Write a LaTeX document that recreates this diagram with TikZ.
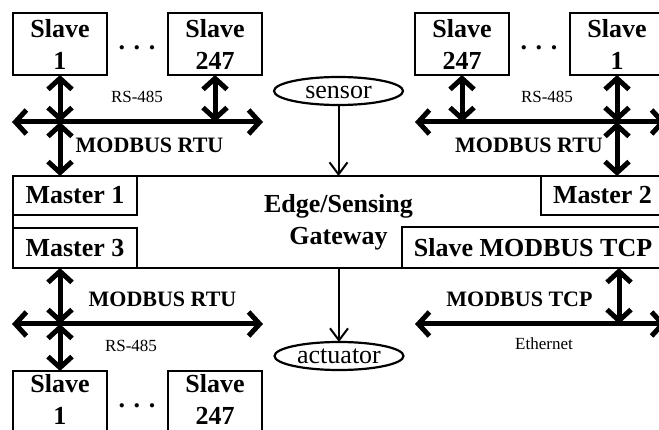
\documentclass[tikz,border=0pt]{standalone}
\usepackage{fontspec}
\setmainfont{Liberation Serif}
\usetikzlibrary{arrows.meta,shapes.geometric}
\begin{document}
\begin{tikzpicture}[x=1pt,y=-1pt,
  box/.style={draw, line width=2.5pt, inner sep=0pt, outer sep=0pt, align=center, font=\fontsize{26}{32}\selectfont\bfseries},
  slavebox/.style={box, minimum width=94pt, minimum height=62pt},
  ell/.style={ellipse, draw, line width=2.2pt, inner sep=0pt, outer sep=0pt, minimum width=129pt, minimum height=28pt, text height=17pt, text depth=2pt, font=\fontsize{26}{30}\selectfont},
  dotlbl/.style={anchor=base, inner sep=0pt, font=\fontsize{26}{30}\selectfont\bfseries},
  lbl/.style={anchor=base, inner sep=0pt, font=\fontsize{17}{20}\selectfont},
  mlbl/.style={anchor=base, inner sep=0pt, font=\fontsize{22}{26}\selectfont\bfseries},
  bus/.style={line width=5pt, arrows={Straight Barb[length=11pt,width=24pt]-Straight Barb[length=11pt,width=24pt]}},
  thinarr/.style={line width=2pt, arrows={-Straight Barb[length=12pt,width=18pt]}}
]
\useasboundingbox (0,0) rectangle (659,430);
\fill[white] (0,0) rectangle (659,430);
\clip (0,0) rectangle (659,430);

% gateway and its parts
\node[box, minimum width=651pt, minimum height=92pt] (gw) at (338.5,222) {Edge/Sensing\\Gateway};
\node[box, minimum width=124pt, minimum height=39pt] (m1) at (75,195.5) {Master 1};
\node[box, minimum width=124pt, minimum height=40pt] (m3) at (75,248) {Master 3};
\node[box, minimum width=123pt, minimum height=39pt] (m2) at (602.5,195.5) {Master 2};
\node[box, minimum width=262pt, minimum height=41pt] (stcp) at (533,247.5) {Slave MODBUS TCP};

% slaves
\node[slavebox] (s1a) at (60,44) {Slave\\1};
\node[slavebox] (s247a) at (215,44) {Slave\\247};
\node[dotlbl] (d1) at (137,50) {. . .};
\node[slavebox] (s247b) at (462,44) {Slave\\247};
\node[slavebox] (s1b) at (617,44) {Slave\\1};
\node[dotlbl] (d2) at (539,50) {. . .};
\node[slavebox, text depth=5pt] (s1c) at (60,402) {Slave\\1};
\node[slavebox, text depth=5pt] (s247c) at (215,402) {Slave\\247};
\node[dotlbl] (d3) at (137,407) {. . .};

% sensor / actuator
\node[ell] (sen) at (338.5,91) {sensor};
\node[ell] (act) at (339,356) {actuator};

% labels
\node[lbl] (rs1) at (137,103) {RS-485};
\node[lbl] (rs2) at (547,103) {RS-485};
\node[lbl] (rs3) at (131,352) {RS-485};
\node[lbl] (eth) at (544,350) {Ethernet};
\node[mlbl] (mr1) at (149.5,153) {MODBUS RTU};
\node[mlbl] (mr2) at (529,153) {MODBUS RTU};
\node[mlbl] (mr3) at (162.5,307) {MODBUS RTU};
\node[mlbl] (mt) at (519.5,307) {MODBUS TCP};

% bus coordinates
\coordinate (x1) at (60,122); \coordinate (bl1) at (12,122); \coordinate (br1) at (263,122);
\coordinate (x2) at (617,122); \coordinate (bl2) at (415,122); \coordinate (br2) at (666,122);
\coordinate (x3) at (60,324); \coordinate (bl3) at (12,324); \coordinate (br3) at (263,324);
\coordinate (x4) at (619,324); \coordinate (bl4) at (415,324); \coordinate (br4) at (666,324);

% top-left network
\draw[bus] (bl1) -- (br1);
\draw[bus] (s1a.south) -- (x1);
\draw[bus] (x1) -- (x1 |- gw.north);
\draw[bus] (s247a.south) -- (s247a.south |- x1);
% top-right network
\draw[bus] (bl2) -- (br2);
\draw[bus] (s1b.south) -- (x2);
\draw[bus] (x2) -- (x2 |- gw.north);
\draw[bus] (s247b.south) -- (s247b.south |- x2);
% bottom-left network
\draw[bus] (bl3) -- (br3);
\draw[bus] (x3 |- gw.south) -- (x3);
\draw[bus] (x3) -- (s1c.north);
% bottom-right network
\draw[bus] (bl4) -- (br4);
\draw[bus] (x4 |- gw.south) -- (x4);

% sensor / actuator arrows
\draw[thinarr] (sen.south) -- (sen.south |- gw.north);
\draw[thinarr] (act.north |- gw.south) -- (act.north);
\end{tikzpicture}
\end{document}
